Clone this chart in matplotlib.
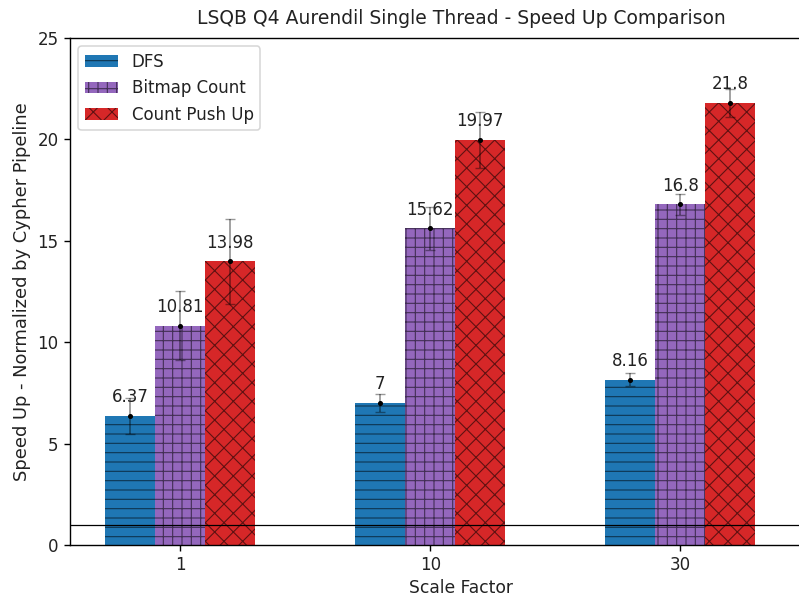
import numpy as np
import matplotlib
matplotlib.use('Agg')
import matplotlib.pyplot as plt

# data
scale_factors = ['1', '10', '30']
dfs = [6.37, 7.0, 8.16]
bitmap = [10.81, 15.62, 16.8]
pushup = [13.98, 19.97, 21.8]
dfs_err = [0.9, 0.45, 0.3]
bitmap_err = [1.7, 1.07, 0.53]
pushup_err = [2.1, 1.4, 0.7]

series = [
    ('DFS', dfs, dfs_err, '#1f77b4', '--'),
    ('Bitmap Count', bitmap, bitmap_err, '#9467bd', '++'),
    ('Count Push Up', pushup, pushup_err, '#d62728', 'xx'),
]

DPI = 112
k = 100 / DPI  # keep sizes as they would be at 100 dpi

plt.rcParams['font.family'] = 'DejaVu Sans'
plt.rcParams['hatch.linewidth'] = 0.8 * k
plt.rcParams['axes.linewidth'] = 1.0 * k
plt.rcParams['xtick.major.width'] = 1.0 * k
plt.rcParams['ytick.major.width'] = 1.0 * k
plt.rcParams['xtick.major.size'] = 4.2 * k
plt.rcParams['ytick.major.size'] = 4.2 * k

fig = plt.figure(figsize=(799 / DPI, 597 / DPI), dpi=DPI)
# axes run past the right edge, like the cropped original
ax = fig.add_axes([70 / 799, 52 / 597, (853 - 70) / 799, (545 - 38) / 597])

x = np.arange(len(scale_factors))
width = 0.2
hatch_col = (0, 0, 0, 0.55)

for i, (name, vals, errs, color, hatch) in enumerate(series):
    pos = x + (i - 1) * width
    bars = ax.bar(pos, vals, width, color=color, hatch=hatch, label=name,
                  edgecolor=hatch_col, linewidth=0)
    ax.errorbar(pos, vals, yerr=errs, fmt='.', color='black', ecolor=(0, 0, 0, 0.4),
                elinewidth=1.3 * k, capsize=3.5 * k, capthick=1.0 * k, markersize=5 * k)
    ax.bar_label(bars, labels=[f'{v:g}' for v in vals], fontsize=12 * k, padding=7 * k,
                 color='#222222')

ax.axhline(1, color='black', linewidth=0.9 * k)

ax.set_xticks(x)
ax.set_xticklabels(scale_factors, fontsize=12 * k, color='#222222')
ax.tick_params(axis='y', labelsize=12 * k, labelcolor='#222222')
ax.set_xlim(-0.44, 2.69)
ax.set_ylim(0, 25)
ax.spines['right'].set_visible(False)
ax.set_xlabel('Scale Factor', fontsize=12.3 * k, color='#222222', labelpad=3.5 * k)
ax.set_ylabel('Speed Up - Normalized by Cypher Pipeline', fontsize=12.9 * k, color='#222222')
ax.set_title('LSQB Q4 Aurendil Single Thread - Speed Up Comparison', fontsize=13.5 * k,
             color='#222222', pad=10 * k)
leg = ax.legend(loc='upper left', fontsize=12 * k)
for t in leg.get_texts():
    t.set_color('#222222')

fig.savefig('out.png', dpi=DPI)
